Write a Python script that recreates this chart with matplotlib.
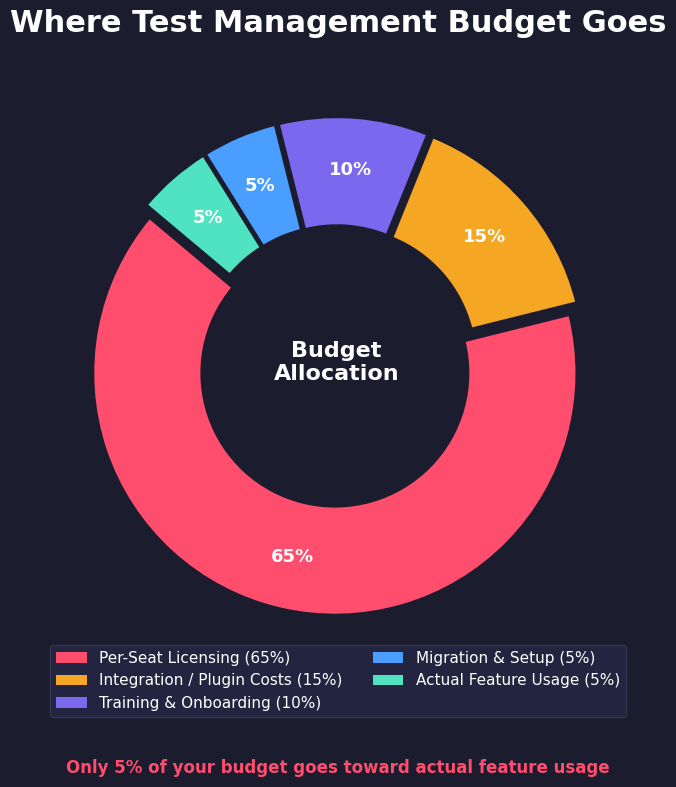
import matplotlib
matplotlib.use("Agg")
import matplotlib.pyplot as plt
from matplotlib.patches import Patch

categories = ["Per-Seat Licensing", "Integration / Plugin Costs", "Training & Onboarding",
              "Migration & Setup", "Actual Feature Usage"]
values = [65, 15, 10, 5, 5]
colors = ["#FF4D6D", "#F5A623", "#7B68EE", "#4A9EFF", "#50E3C2"]
explode = [0.03, 0.03, 0.03, 0.03, 0.03]

BG = "#1C1C2F"

fig = plt.figure(figsize=(6.76, 7.87), dpi=100, facecolor=BG)
W, H = 676, 787
r_px = 242
cx, cy = 336.5, 366
half = 1.1 * r_px
ax = fig.add_axes([(cx - half) / W, (H - cy - half) / H, 2 * half / W, 2 * half / H])
ax.set_facecolor(BG)

wedges, texts, autotexts = ax.pie(
    values, colors=colors, explode=explode, startangle=140, counterclock=True,
    radius=1.0, pctdistance=0.78, autopct="%1.0f%%",
    wedgeprops=dict(width=0.45, edgecolor=BG, linewidth=2),
    textprops=dict(color="white", fontsize=13, fontweight="bold"),
)
ax.set_xlim(-1.1, 1.1)
ax.set_ylim(-1.1, 1.1)
ax.set_aspect("equal")
ax.axis("off")

ax.text(0, 0.015, "Budget\nAllocation", ha="center", va="center", color="white",
        fontsize=16, fontweight="bold", linespacing=1.2)

fig.text(0.5, 1 - 24 / H, "Where Test Management Budget Goes", ha="center", va="center",
         color="white", fontsize=22, fontweight="bold")

labels = [f"{c} ({v}%)" for c, v in zip(categories, values)]
handles = [Patch(facecolor=c, edgecolor="none") for c in colors]
leg = fig.legend(handles, labels, loc="upper center", bbox_to_anchor=(0.5, 1 - 637 / H),
                 ncol=2, fontsize=11, frameon=True, facecolor="#232440", edgecolor="#33354f",
                 labelcolor="white", framealpha=1.0)
leg.get_frame().set_linewidth(1.0)

fig.text(0.5, 1 - 768 / H, "Only 5% of your budget goes toward actual feature usage",
         ha="center", va="center", color="#FF4D6D", fontsize=12, fontweight="bold")

fig.savefig("out.png", dpi=100, facecolor=BG)
